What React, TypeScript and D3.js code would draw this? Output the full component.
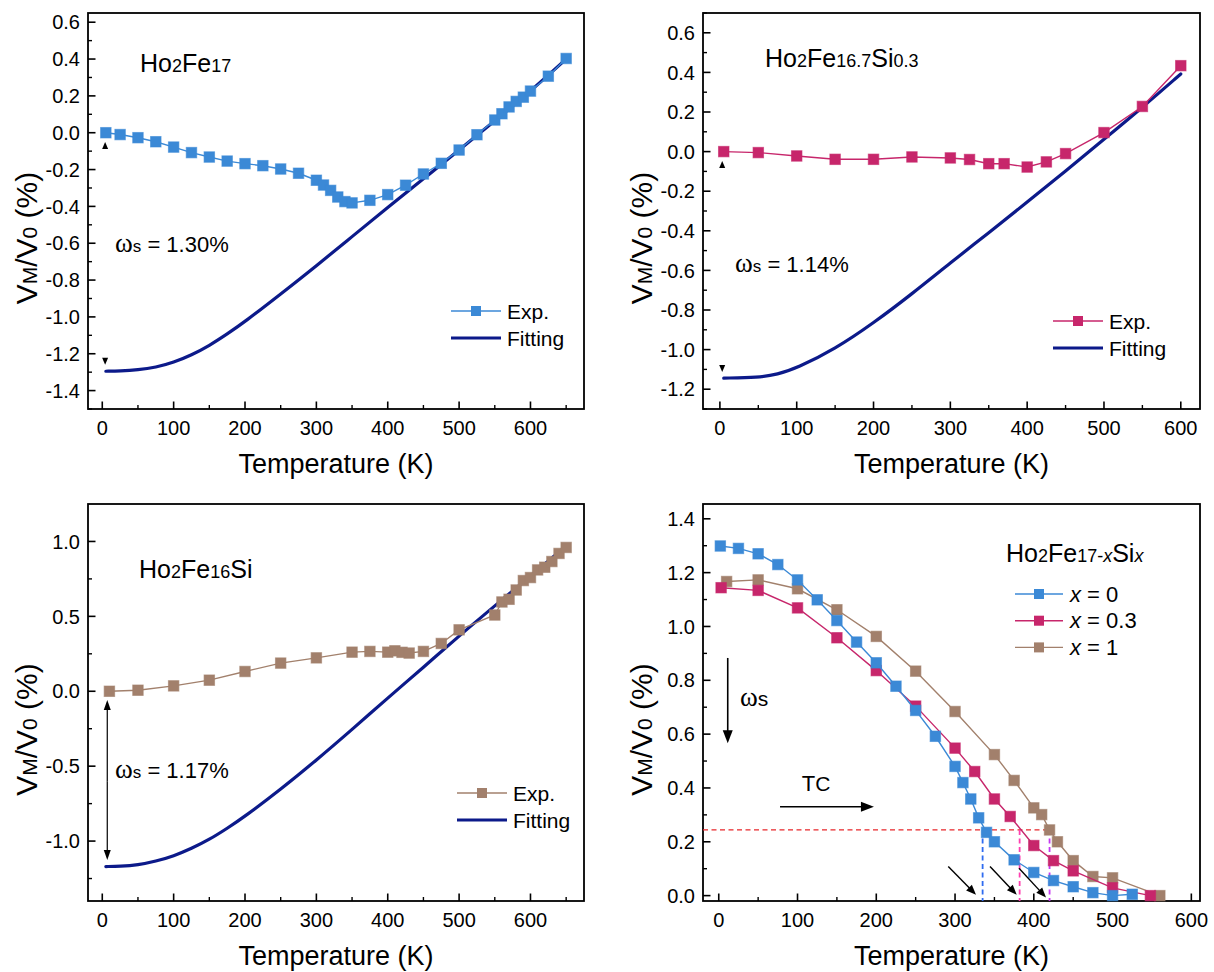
import React from 'react';
import * as d3 from 'd3';

const FONT = "Arial, 'Liberation Sans', Helvetica, sans-serif";
const SERIF = "'Liberation Serif', 'DejaVu Serif', serif";
const BLUE = '#3b89d6';
const MAGENTA = '#c7266b';
const BROWN = '#a2806c';
const NAVY = '#0c1a8a';

// ---- Panel (a) Ho2Fe17 ----
const p1T = [5, 25, 50, 75, 100, 125, 150, 175, 200, 225, 250, 275, 300, 310, 320, 330, 340, 350, 375, 400, 425, 450, 475, 500, 525, 550, 560, 570, 580, 590, 600, 625, 650];
const p1Exp = [0, -0.01, -0.027, -0.049, -0.078, -0.108, -0.132, -0.154, -0.168, -0.179, -0.197, -0.22, -0.258, -0.284, -0.313, -0.349, -0.374, -0.381, -0.367, -0.336, -0.285, -0.224, -0.166, -0.094, -0.011, 0.069, 0.103, 0.14, 0.17, 0.193, 0.226, 0.307, 0.403];
const p1FitT = [5, 25, 50, 75, 100, 125, 150, 175, 200, 250, 300, 350, 400, 450, 500, 550, 600, 650];
const p1Fit = [-1.295, -1.294, -1.288, -1.274, -1.247, -1.207, -1.156, -1.093, -1.026, -0.876, -0.723, -0.564, -0.406, -0.25, -0.095, 0.065, 0.225, 0.4];

// ---- Panel (b) Ho2Fe16.7Si0.3 ----
const p2T = [5, 50, 100, 150, 200, 250, 300, 325, 350, 370, 400, 425, 450, 500, 550, 600];
const p2Exp = [0, -0.005, -0.022, -0.039, -0.039, -0.027, -0.032, -0.04, -0.061, -0.061, -0.078, -0.052, -0.01, 0.096, 0.228, 0.434];
const p2FitT = [5, 50, 75, 100, 150, 200, 250, 300, 350, 400, 450, 500, 550, 600];
const p2Fit = [-1.144, -1.141, -1.125, -1.094, -0.997, -0.866, -0.719, -0.562, -0.41, -0.255, -0.098, 0.062, 0.223, 0.392];

// ---- Panel (c) Ho2Fe16Si ----
const p3T = [10, 50, 100, 150, 200, 250, 300, 350, 375, 400, 410, 420, 430, 450, 475, 500, 550, 560, 570, 580, 590, 600, 610, 620, 630, 640, 650];
const p3Exp = [0, 0.007, 0.036, 0.074, 0.132, 0.188, 0.223, 0.261, 0.266, 0.261, 0.27, 0.26, 0.255, 0.266, 0.319, 0.41, 0.509, 0.596, 0.614, 0.676, 0.739, 0.759, 0.81, 0.828, 0.866, 0.92, 0.96];
const p3FitT = [5, 25, 50, 75, 100, 125, 150, 175, 200, 250, 300, 350, 400, 450, 500, 550, 600, 650];
const p3Fit = [-1.17, -1.169, -1.16, -1.135, -1.1, -1.05, -0.99, -0.915, -0.835, -0.655, -0.46, -0.255, -0.045, 0.16, 0.37, 0.57, 0.77, 0.97];

// ---- Panel (d) omega_s(T) ----
const p4T0 = [2, 25, 50, 75, 100, 125, 150, 175, 200, 225, 250, 275, 300, 310, 320, 330, 340, 350, 375, 400, 425, 450, 475, 500, 525];
const p4V0 = [1.299, 1.29, 1.27, 1.23, 1.173, 1.099, 1.022, 0.942, 0.865, 0.778, 0.688, 0.592, 0.48, 0.42, 0.359, 0.289, 0.235, 0.2, 0.133, 0.086, 0.056, 0.033, 0.011, 0.0, 0.005];
const p4T03 = [3, 50, 100, 150, 200, 250, 300, 325, 350, 370, 400, 425, 450, 500, 548];
const p4V03 = [1.144, 1.134, 1.069, 0.958, 0.836, 0.704, 0.548, 0.461, 0.359, 0.294, 0.186, 0.13, 0.092, 0.029, 0.0];
const p4T1 = [10, 50, 100, 150, 200, 250, 300, 350, 375, 400, 410, 420, 430, 450, 475, 500, 560];
const p4V1 = [1.167, 1.173, 1.14, 1.062, 0.963, 0.834, 0.684, 0.524, 0.428, 0.326, 0.301, 0.244, 0.2, 0.13, 0.071, 0.066, 0.0];

const xMajorTicks = [0, 100, 200, 300, 400, 500, 600];
const tcLevel = 0.244;
const tcValues = [335, 382, 420];
const tcColors = ['#2f6cf0', '#ff3fb0', '#c438f0'];

type Frame = { l: number; t: number; r: number; b: number };

function zip(a: number[], b: number[]) {
  return a.map((v, i) => [v, b[i]] as [number, number]);
}

function arrowPath(x1: number, y1: number, x2: number, y2: number, hl = 12, hw = 5) {
  const dx = x2 - x1, dy = y2 - y1;
  const len = Math.hypot(dx, dy);
  const ux = dx / len, uy = dy / len;
  const bx = x2 - ux * hl, by = y2 - uy * hl;
  const px = -uy, py = ux;
  return {
    line: `M${x1},${y1}L${bx + ux * 2},${by + uy * 2}`,
    head: `M${x2},${y2}L${bx + px * hw},${by + py * hw}L${bx - px * hw},${by - py * hw}Z`,
  };
}

function Arrow({ x1, y1, x2, y2, hl = 12, hw = 5, w = 1.5 }: any) {
  const a = arrowPath(x1, y1, x2, y2, hl, hw);
  return (
    <g>
      <path d={a.line} stroke="#000" strokeWidth={w} fill="none" />
      <path d={a.head} fill="#000" />
    </g>
  );
}

function Axes({ f, x, y, xMinor, yMajor, yMinor }: any) {
  return (
    <g fontFamily={FONT}>
      {xMinor.map((v: number) => (
        <line key={'xm' + v} x1={x(v)} x2={x(v)} y1={f.b} y2={f.b - 4} stroke="#000" strokeWidth={1.4} />
      ))}
      {xMajorTicks.map((v) => (
        <g key={'xM' + v}>
          <line x1={x(v)} x2={x(v)} y1={f.b} y2={f.b - 7.5} stroke="#000" strokeWidth={1.6} />
          <text x={x(v)} y={f.b + 26} fontSize={20} textAnchor="middle" fill="#000">{v}</text>
        </g>
      ))}
      {yMinor.map((v: number) => (
        <line key={'ym' + v} x1={f.l} x2={f.l + 4} y1={y(v)} y2={y(v)} stroke="#000" strokeWidth={1.4} />
      ))}
      {yMajor.map((v: number) => (
        <g key={'yM' + v}>
          <line x1={f.l} x2={f.l + 7.5} y1={y(v)} y2={y(v)} stroke="#000" strokeWidth={1.6} />
          <text x={f.l - 8} y={y(v)} dy="0.36em" fontSize={20} textAnchor="end" fill="#000">{v.toFixed(1)}</text>
        </g>
      ))}
      <rect x={f.l} y={f.t} width={f.r - f.l} height={f.b - f.t} fill="none" stroke="#000" strokeWidth={1.8} />
      <text x={(f.l + f.r) / 2} y={f.b + 64} fontSize={27} textAnchor="middle" fill="#000">Temperature (K)</text>
      <text transform={`translate(${f.l - 51},${(f.t + f.b) / 2 + 27}) rotate(-90)`} fontSize={30} textAnchor="middle" fill="#000">
        V<tspan fontSize={21}>M</tspan>/V<tspan fontSize={21}>0</tspan> (%)
      </text>
    </g>
  );
}

function ExpSeries({ x, y, T, V, color, size = 10.5 }: any) {
  const pts = zip(T, V);
  const line = d3.line<[number, number]>().x((d) => x(d[0])).y((d) => y(d[1]));
  return (
    <g>
      <path d={line(pts) || ''} fill="none" stroke={color} strokeWidth={1.4} />
      {pts.map((p, i) => (
        <rect key={i} x={x(p[0]) - size / 2} y={y(p[1]) - size / 2} width={size} height={size} fill={color} stroke={color} strokeOpacity={0.6} strokeWidth={1} />
      ))}
    </g>
  );
}

function FitSeries({ x, y, T, V }: any) {
  const line = d3.line<[number, number]>().x((d) => x(d[0])).y((d) => y(d[1])).curve(d3.curveBasis);
  return <path d={line(zip(T, V)) || ''} fill="none" stroke={NAVY} strokeWidth={3.2} strokeLinecap="round" />;
}

function Legend2({ x0, y0, color }: any) {
  return (
    <g fontFamily={FONT} fontSize={21}>
      <line x1={x0} x2={x0 + 50} y1={y0} y2={y0} stroke={color} strokeWidth={1.4} />
      <rect x={x0 + 25 - 5} y={y0 - 5} width={10} height={10} fill={color} />
      <text x={x0 + 56} y={y0 + 7.5}>Exp.</text>
      <line x1={x0} x2={x0 + 50} y1={y0 + 27} y2={y0 + 27} stroke={NAVY} strokeWidth={3.2} />
      <text x={x0 + 56} y={y0 + 35}>Fitting</text>
    </g>
  );
}

function Tri({ cx, tipY, up }: any) {
  const h = 7, w = 3;
  const d = up
    ? `M${cx},${tipY}L${cx - w},${tipY + h}L${cx + w},${tipY + h}Z`
    : `M${cx},${tipY}L${cx - w},${tipY - h}L${cx + w},${tipY - h}Z`;
  return <path d={d} fill="#000" />;
}

function Omega({ x0, y0, value }: any) {
  return (
    <text x={x0} y={y0} fontFamily={FONT} fontSize={22} fill="#000">
      <tspan fontFamily={SERIF} fontSize={27}>ω</tspan>
      <tspan fontSize={17}>s</tspan> = {value}
    </text>
  );
}

export default function App() {
  const f1: Frame = { l: 88, t: 13, r: 584, b: 409 };
  const f2: Frame = { l: 703, t: 13, r: 1200, b: 409 };
  const f3: Frame = { l: 88, t: 504, r: 584, b: 901 };
  const f4: Frame = { l: 703, t: 504, r: 1200, b: 901 };

  const x1 = d3.scaleLinear().domain([-20, 675]).range([f1.l, f1.r]);
  const y1 = d3.scaleLinear().domain([-1.5, 0.65]).range([f1.b, f1.t]);
  const x2 = d3.scaleLinear().domain([-22, 625]).range([f2.l, f2.r]);
  const y2 = d3.scaleLinear().domain([-1.3, 0.7]).range([f2.b, f2.t]);
  const x3 = d3.scaleLinear().domain([-20, 675]).range([f3.l, f3.r]);
  const y3 = d3.scaleLinear().domain([-1.4, 1.25]).range([f3.b, f3.t]);
  const x4 = d3.scaleLinear().domain([-20, 611]).range([f4.l, f4.r]);
  const y4 = d3.scaleLinear().domain([-0.02, 1.455]).range([f4.b, f4.t]);

  const r = (a: number, b: number, s: number) => d3.range(a, b + s / 2, s).map((v) => Math.round(v * 1000) / 1000);

  const minor650 = [50, 150, 250, 350, 450, 550, 650];
  const minor550 = [50, 150, 250, 350, 450, 550];

  return (
    <svg width={1214} height={972} style={{ position: 'absolute', left: 0, top: 0, background: '#fff' }}>
      <rect width={1214} height={972} fill="#fff" />

      {/* Panel 1 */}
      <Axes f={f1} x={x1} y={y1} xMinor={minor650} yMajor={r(-1.4, 0.6, 0.2)} yMinor={r(-1.5, 0.6, 0.1).filter((v) => Math.abs(Math.round(v * 10)) % 2 === 1)} />
      <FitSeries x={x1} y={y1} T={p1FitT} V={p1Fit} />
      <ExpSeries x={x1} y={y1} T={p1T} V={p1Exp} color={BLUE} />
      <Tri cx={x1(4)} tipY={y1(-0.05)} up />
      <Tri cx={x1(4)} tipY={y1(-1.26)} />
      <text x={140} y={72} fontFamily={FONT} fontSize={25} fill="#000">Ho<tspan fontSize={18}>2</tspan>Fe<tspan fontSize={18}>17</tspan></text>
      <Omega x0={115} y0={252} value="1.30%" />
      <Legend2 x0={451} y0={311} color={BLUE} />

      {/* Panel 2 */}
      <Axes f={f2} x={x2} y={y2} xMinor={minor550} yMajor={r(-1.2, 0.6, 0.2)} yMinor={r(-1.3, 0.7, 0.1).filter((v) => Math.abs(Math.round(v * 10)) % 2 === 1)} />
      <FitSeries x={x2} y={y2} T={p2FitT} V={p2Fit} />
      <ExpSeries x={x2} y={y2} T={p2T} V={p2Exp} color={MAGENTA} />
      <Tri cx={x2(3)} tipY={y2(-0.047)} up />
      <Tri cx={x2(3)} tipY={y2(-1.113)} />
      <text x={765} y={67} fontFamily={FONT} fontSize={25} fill="#000">Ho<tspan fontSize={18}>2</tspan>Fe<tspan fontSize={18}>16.7</tspan>Si<tspan fontSize={18}>0.3</tspan></text>
      <Omega x0={735} y0={272} value="1.14%" />
      <Legend2 x0={1053} y0={321} color={MAGENTA} />

      {/* Panel 3 */}
      <Axes f={f3} x={x3} y={y3} xMinor={minor650} yMajor={r(-1.0, 1.0, 0.5)} yMinor={[-1.25, -0.75, -0.25, 0.25, 0.75]} />
      <FitSeries x={x3} y={y3} T={p3FitT} V={p3Fit} />
      <ExpSeries x={x3} y={y3} T={p3T} V={p3Exp} color={BROWN} />
      <Arrow x1={x3(7)} y1={y3(-0.6)} x2={x3(7)} y2={y3(-0.058)} hl={10} hw={3.5} w={1.2} />
      <Arrow x1={x3(7)} y1={y3(-0.6)} x2={x3(7)} y2={y3(-1.126)} hl={10} hw={3.5} w={1.2} />
      <text x={139} y={578} fontFamily={FONT} fontSize={25} fill="#000">Ho<tspan fontSize={18}>2</tspan>Fe<tspan fontSize={18}>16</tspan>Si</text>
      <Omega x0={115} y0={778} value="1.17%" />
      <Legend2 x0={457} y0={793} color={BROWN} />

      {/* Panel 4 */}
      <Axes f={f4} x={x4} y={y4} xMinor={minor550} yMajor={r(0, 1.4, 0.2)} yMinor={[0.1, 0.3, 0.5, 0.7, 0.9, 1.1, 1.3]} />
      <line x1={f4.l} x2={x4(tcValues[2])} y1={y4(tcLevel)} y2={y4(tcLevel)} stroke="#e8262a" strokeWidth={1.2} strokeDasharray="5,3.5" />
      {tcValues.map((t, i) => (
        <line key={t} x1={x4(t)} x2={x4(t)} y1={y4(tcLevel)} y2={f4.b} stroke={tcColors[i]} strokeWidth={1.8} strokeDasharray="5,3.5" />
      ))}
      <ExpSeries x={x4} y={y4} T={p4T1} V={p4V1} color={BROWN} />
      <ExpSeries x={x4} y={y4} T={p4T03} V={p4V03} color={MAGENTA} />
      <ExpSeries x={x4} y={y4} T={p4T0} V={p4V0} color={BLUE} />
      <Arrow x1={x4(11.4)} y1={y4(0.883)} x2={x4(11.4)} y2={y4(0.566)} hl={13} hw={5} w={1.6} />
      <text x={x4(27)} y={y4(0.705)} fontFamily={FONT} fill="#000">
        <tspan fontFamily={SERIF} fontSize={27}>ω</tspan><tspan fontSize={21}>s</tspan>
      </text>
      <text x={x4(105.4)} y={y4(0.389)} fontFamily={FONT} fontSize={22} fill="#000">T<tspan fontSize={21}>C</tspan></text>
      <Arrow x1={x4(77.8)} y1={y4(0.33)} x2={x4(197)} y2={y4(0.33)} hl={13} hw={5} w={1.6} />
      <Arrow x1={x4(291.4)} y1={y4(0.108)} x2={x4(326.6)} y2={y4(0.003)} hl={10} hw={4} w={1.4} />
      <Arrow x1={x4(344.4)} y1={y4(0.108)} x2={x4(378.3)} y2={y4(0.003)} hl={10} hw={4} w={1.4} />
      <Arrow x1={x4(381.2)} y1={y4(0.102)} x2={x4(415.5)} y2={y4(-0.007)} hl={10} hw={4} w={1.4} />
      <text x={1006} y={562} fontFamily={FONT} fontSize={25} fill="#000">
        Ho<tspan fontSize={18}>2</tspan>Fe<tspan fontSize={18}>17-</tspan><tspan fontSize={18} fontStyle="italic">x</tspan>Si<tspan fontSize={18} fontStyle="italic">x</tspan>
      </text>
      {[
        { c: BLUE, v: '0' },
        { c: MAGENTA, v: '0.3' },
        { c: BROWN, v: '1' },
      ].map((d, i) => (
        <g key={d.v} fontFamily={FONT} fontSize={22}>
          <line x1={1015} x2={1063} y1={594 + i * 26.7} y2={594 + i * 26.7} stroke={d.c} strokeWidth={1.4} />
          <rect x={1034} y={589 + i * 26.7} width={10} height={10} fill={d.c} />
          <text x={1070} y={601.7 + i * 26.7}><tspan fontStyle="italic">x</tspan> = {d.v}</text>
        </g>
      ))}
    </svg>
  );
}
